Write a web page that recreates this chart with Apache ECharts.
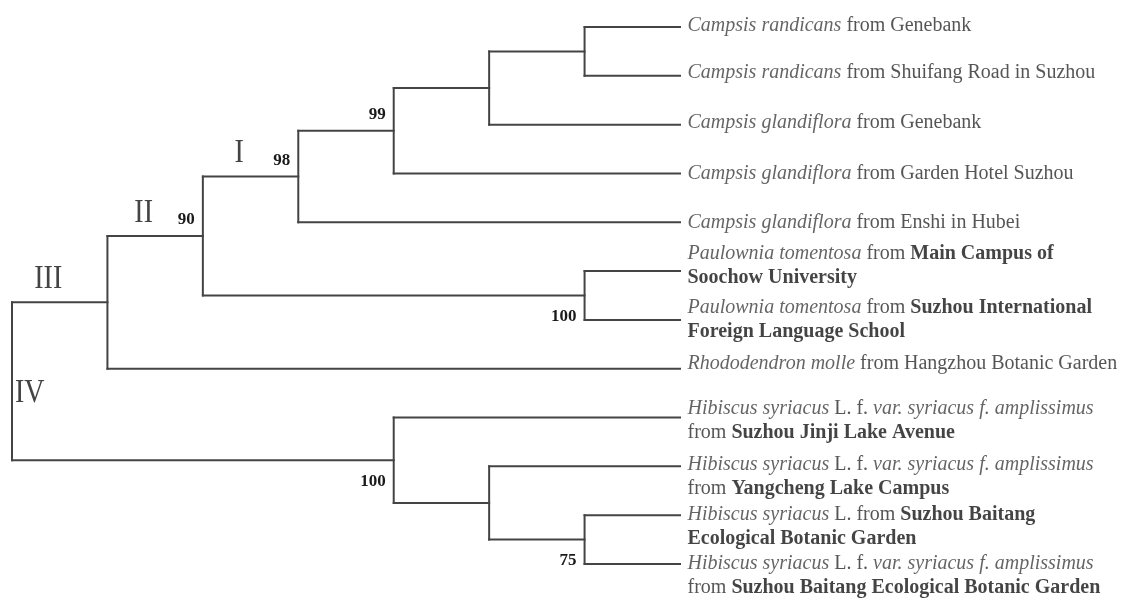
<!DOCTYPE html>
<html>
<head>
<meta charset="utf-8">
<script src="https://cdn.jsdelivr.net/npm/echarts@6/dist/echarts.min.js"></script>
<style>
html,body{margin:0;padding:0;background:#fff;}
#chart{width:1122px;height:598px;}
</style>
</head>
<body>
<div id="chart"></div>
<script>
// ---- data ----
// leaves, top to bottom
const leafLabels = [
  '{i|Campsis randicans} from Genebank',
  '{i|Campsis randicans} from Shuifang Road in Suzhou',
  '{i|Campsis glandiflora} from Genebank',
  '{i|Campsis glandiflora} from Garden Hotel Suzhou',
  '{i|Campsis glandiflora} from Enshi in Hubei',
  '{i|Paulownia tomentosa} from {b|Main Campus of}\n{b|Soochow University}',
  '{i|Paulownia tomentosa} from {b|Suzhou International}\n{b|Foreign Language School}',
  '{i|Rhododendron molle} from Hangzhou Botanic Garden',
  '{i|Hibiscus syriacus} L. f. {i|var. syriacus f. amplissimus}\nfrom {b|Suzhou Jinji Lake Avenue}',
  '{i|Hibiscus syriacus} L. f. {i|var. syriacus f. amplissimus}\nfrom {b|Yangcheng Lake Campus}',
  '{i|Hibiscus syriacus} L. from {b|Suzhou Baitang}\n{b|Ecological Botanic Garden}',
  '{i|Hibiscus syriacus} L. f. {i|var. syriacus f. amplissimus}\nfrom {b|Suzhou Baitang Ecological Botanic Garden}'
];
// internal nodes of the cladogram
const nodeNames   = ['root', 'III', 'II', 'I', 'n99', 'nG', 'nA', 'nP', 'nH', 'nH2', 'nH3'];
const nodeParents = [null, 'root', 'III', 'II', 'I', 'n99', 'nG', 'II', 'root', 'nH', 'nH2'];
const nodeDepths  = [0, 1, 2, 3, 4, 5, 6, 6, 4, 5, 6];
// parent node of each leaf
const leafParents = ['nA', 'nA', 'nG', 'n99', 'I', 'nP', 'nP', 'III', 'nH', 'nH2', 'nH3', 'nH3'];
const leafDepth = 7;
// bootstrap support values
const supportNodes  = ['n99', 'I', 'II', 'nP', 'nH', 'nH3'];
const supportValues = ['99', '98', '90', '100', '100', '75'];
// clade names
const cladeNodes = ['I', 'II', 'III', 'root'];
const cladeNames = ['I', 'II', 'III', 'IV'];

// ---- label placement (style) ----
const leafLabelDy = [-1, -3, -2, 0, 0, -5, 0, -5, 3, 10, 12, 12];
const supportBelow = [false, false, false, true, true, true];

// ---- layout from the tree ----
const depthOf = {}, parentOf = {};
nodeNames.forEach((n, i) => { depthOf[n] = nodeDepths[i]; parentOf[n] = nodeParents[i]; });
const children = {};
nodeNames.forEach(n => children[n] = []);
nodeNames.forEach((n, i) => { if (nodeParents[i]) children[nodeParents[i]].push({node: n}); });
leafParents.forEach((p, i) => children[p].push({leaf: i}));
const yOf = {};
function nodeY(n) {
  if (yOf[n] !== undefined) return yOf[n];
  const ys = children[n].map(c => c.leaf !== undefined ? c.leaf : nodeY(c.node));
  yOf[n] = (Math.min(...ys) + Math.max(...ys)) / 2;
  return yOf[n];
}
nodeNames.forEach(nodeY);

const segments = [];
leafParents.forEach((p, i) => segments.push([depthOf[p], i, leafDepth, i]));
nodeNames.forEach(n => {
  const p = parentOf[n];
  if (p) segments.push([depthOf[p], yOf[n], depthOf[n], yOf[n]]);
  const ys = children[n].map(c => c.leaf !== undefined ? c.leaf : yOf[c.node]);
  segments.push([depthOf[n], Math.min(...ys), depthOf[n], Math.max(...ys)]);
});

const supportData = supportNodes.map((n, i) => [depthOf[n], yOf[n], i]);
const cladeData = cladeNodes.map((n, i) => {
  const p = parentOf[n];
  return p ? [depthOf[p] + 0.38, yOf[n], i] : [depthOf[n], yOf[n], i];
});

const FONT = '"Liberation Serif", "Times New Roman", serif';
const chart = echarts.init(document.getElementById('chart'));
chart.setOption({
  animation: false,
  backgroundColor: '#ffffff',
  grid: {left: 12, right: 442, top: 27, bottom: 34, containLabel: false},
  xAxis: {type: 'value', min: 0, max: leafDepth, show: false},
  yAxis: {type: 'value', min: 0, max: leafLabels.length - 1, inverse: true, show: false},
  series: [
    {
      type: 'custom',
      silent: true,
      encode: {x: [0, 2], y: [1, 3]},
      data: segments,
      renderItem: (params, api) => {
        const a = api.coord([api.value(0), api.value(1)]);
        const b = api.coord([api.value(2), api.value(3)]);
        return {
          type: 'line',
          shape: {x1: a[0], y1: a[1], x2: b[0], y2: b[1]},
          style: {stroke: '#444444', lineWidth: 2, lineCap: 'square'}
        };
      }
    },
    {
      type: 'custom',
      silent: true,
      encode: {x: 0, y: 1},
      data: supportData,
      renderItem: (params, api) => {
        const k = api.value(2);
        const p = api.coord([api.value(0), api.value(1)]);
        return {
          type: 'text',
          x: p[0] - 8,
          y: p[1] + (supportBelow[k] ? 21 : -16),
          style: {
            text: supportValues[k], align: 'right', verticalAlign: 'middle',
            fontSize: 17, fontWeight: 'bold', fontFamily: FONT, fill: '#1a1a1a'
          }
        };
      }
    },
    {
      type: 'custom',
      silent: true,
      encode: {x: 0, y: 1},
      data: cladeData,
      renderItem: (params, api) => {
        const k = api.value(2);
        const p = api.coord([api.value(0), api.value(1)]);
        const isRoot = parentOf[cladeNodes[k]] === null;
        return {
          type: 'text',
          x: isRoot ? p[0] + 3 : p[0],
          y: isRoot ? p[1] + 12 : p[1] - 23,
          scaleY: 1.2,
          style: {
            text: cladeNames[k], align: isRoot ? 'left' : 'center', verticalAlign: 'middle',
            fontSize: 28, fontFamily: FONT, fill: '#444444'
          }
        };
      }
    },
    {
      type: 'scatter',
      silent: true,
      symbolSize: 1,
      itemStyle: {color: 'rgba(0,0,0,0)'},
      data: leafLabels.map((t, i) => ({value: [leafDepth, i], label: {offset: [0, leafLabelDy[i]]}})),
      label: {
        show: true,
        position: 'right',
        distance: 7,
        formatter: (p) => leafLabels[p.dataIndex],
        fontSize: 20,
        fontFamily: FONT,
        color: '#2b2b2b',
        lineHeight: 24,
        rich: {
          i: {fontStyle: 'italic', fontSize: 20, fontFamily: FONT, color: '#3d3d3d', lineHeight: 24},
          b: {fontWeight: 'bold', fontSize: 20, fontFamily: FONT, color: '#151515', lineHeight: 24}
        }
      }
    }
  ]
});
</script>
</body>
</html>
